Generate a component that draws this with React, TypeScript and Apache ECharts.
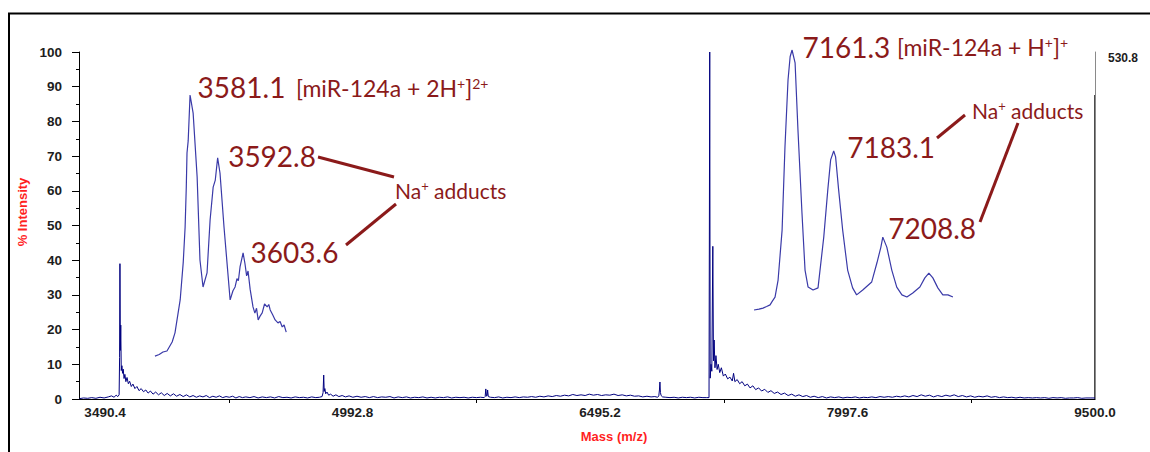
import { useEffect, useRef } from "react";
import * as echarts from "echarts";

// ---- axes -----------------------------------------------------------------
const massLabelValues = [3490.4, 4992.8, 6495.2, 7997.6, 9500.0];
const massTickValues = [4241.6, 5744.0, 7246.4, 8748.8];
const massRange = [3332.5, 9500.0];
const intensityRange = [0, 100];
const absoluteMaxCounts = 530.8;

// ---- full-range MALDI trace: [m/z, % intensity] ---------------------------
const lowMassTrace: [number, number][] = [
  [3335, 0.1], [3360, 0.3], [3385, 0.2], [3410, 0.4], [3435, 0.2], [3460, 0.5], [3485, 0.3],
  [3510, 0.6], [3530, 0.9], [3545, 0.5], [3558, 1.1], [3568, 0.7], [3576, 1.2], [3579, 12],
  [3581.1, 39], [3583.5, 14], [3586, 21.3], [3589, 8.2], [3593, 9.6], [3597, 7.4], [3601, 8.6],
  [3606, 5.9], [3611, 7.1], [3617, 5.0], [3624, 6.2], [3632, 4.4], [3640, 5.1], [3650, 3.6],
  [3660, 4.3], [3672, 3.0], [3684, 3.6], [3697, 2.4], [3710, 3.0], [3724, 2.1], [3738, 2.6],
  [3752, 1.7], [3766, 2.3], [3782, 1.4], [3798, 2.0], [3815, 1.2], [3832, 1.8], [3850, 1.0],
  [3868, 1.6], [3887, 0.9], [3906, 1.5], [3925, 0.8], [3945, 1.3], [3965, 0.7], [3985, 1.2],
  [4005, 0.6], [4025, 1.0], [4045, 0.5], [4065, 0.9], [4085, 0.6], [4105, 1.0], [4125, 0.4],
  [4145, 0.8], [4165, 0.5], [4185, 0.9], [4205, 0.4], [4225, 0.7], [4245, 0.5], [4265, 0.8],
  [4285, 0.3], [4305, 0.7], [4325, 0.4],
];

const midMassTrace: [number, number][] = [
  [4345, 0.6], [4370, 0.4], [4395, 0.7], [4420, 0.3], [4445, 0.6], [4470, 0.4], [4495, 0.6],
  [4520, 0.3], [4545, 0.7], [4570, 0.4], [4595, 0.5], [4620, 0.3], [4645, 0.6], [4670, 0.4],
  [4695, 0.5], [4720, 0.3], [4745, 0.6], [4770, 0.4], [4792, 0.5], [4808, 0.7], [4814, 1.8],
  [4818, 6.9], [4821, 2.2], [4825, 3.0], [4830, 1.5], [4838, 2.0], [4848, 1.1], [4860, 1.4],
  [4875, 0.8], [4892, 1.2], [4910, 0.7], [4930, 1.0], [4950, 0.6], [4972, 0.9], [4995, 0.5],
  [5020, 0.8], [5045, 0.5], [5070, 0.7], [5095, 0.4], [5120, 0.7], [5145, 0.4], [5170, 0.6],
  [5195, 0.5], [5220, 0.7], [5245, 0.3], [5270, 0.6], [5295, 0.4], [5320, 0.6], [5345, 0.3],
  [5370, 0.5], [5395, 0.4], [5420, 0.6], [5445, 0.3], [5470, 0.5], [5495, 0.3], [5520, 0.5],
  [5545, 0.4], [5570, 0.6], [5595, 0.3], [5620, 0.5], [5645, 0.4], [5670, 0.5], [5695, 0.3],
  [5720, 0.5], [5745, 0.4], [5770, 0.5], [5792, 0.4], [5798, 0.7], [5802, 2.9], [5806, 0.8],
  [5810, 1.0], [5813, 2.6], [5817, 0.7], [5830, 0.5], [5855, 0.4], [5880, 0.6], [5905, 0.3],
  [5930, 0.5], [5955, 0.4], [5980, 0.6], [6005, 0.4], [6030, 0.6], [6055, 0.5], [6080, 0.7],
  [6105, 0.5], [6130, 0.8], [6155, 0.6], [6180, 0.9], [6205, 0.7], [6230, 1.0], [6255, 0.8],
  [6280, 1.1], [6305, 0.9], [6330, 1.3], [6355, 1.0], [6380, 1.2], [6405, 1.0], [6430, 1.4],
  [6455, 1.1], [6480, 1.3], [6505, 1.0], [6530, 1.2], [6555, 1.1], [6580, 1.4], [6605, 1.0],
  [6630, 1.2], [6655, 0.9], [6680, 1.1], [6705, 0.8], [6730, 0.9], [6755, 0.6], [6780, 0.8],
  [6805, 0.6], [6828, 0.7], [6845, 0.5], [6852, 0.9], [6856, 2.6], [6859, 4.9], [6862, 1.9],
  [6866, 1.0], [6875, 0.6], [6895, 0.5],
];

const highMassTrace: [number, number][] = [
  [6920, 0.4], [6945, 0.5], [6970, 0.3], [6995, 0.5], [7020, 0.4], [7045, 0.5], [7070, 0.3],
  [7095, 0.5], [7120, 0.4], [7140, 0.4], [7157, 0.4], [7161.3, 100], [7164, 6], [7169, 10],
  [7174, 8], [7180, 44], [7184, 11], [7188, 17], [7193, 9], [7199, 12.5], [7206, 8.5],
  [7213, 10.0], [7222, 7.6], [7232, 9.0], [7244, 6.6], [7256, 7.2], [7270, 5.8], [7284, 6.3],
  [7298, 5.2], [7306, 7.4], [7314, 5.0], [7328, 5.6], [7343, 4.4], [7358, 5.0], [7374, 3.8],
  [7390, 4.3], [7406, 3.2], [7423, 3.8], [7440, 2.7], [7458, 3.2], [7476, 2.3], [7495, 2.8],
  [7514, 1.9], [7533, 2.4], [7553, 1.6], [7573, 2.0], [7594, 1.3], [7615, 1.7], [7637, 1.0],
  [7659, 1.4], [7681, 0.8], [7703, 1.2], [7726, 0.7], [7749, 1.0], [7772, 0.5], [7795, 0.8],
  [7820, 0.4], [7845, 0.7], [7870, 0.3], [7895, 0.6], [7920, 0.4], [7945, 0.6], [7970, 0.3],
  [7995, 0.5], [8020, 0.4], [8045, 0.6], [8070, 0.3], [8095, 0.5], [8120, 0.4], [8145, 0.6],
  [8170, 0.4], [8195, 0.7], [8220, 0.5], [8245, 0.7], [8270, 0.5], [8295, 0.8], [8320, 0.6],
  [8345, 0.9], [8370, 0.6], [8395, 1.0], [8420, 0.7], [8445, 1.2], [8470, 0.8], [8495, 1.1],
  [8520, 0.6], [8545, 1.0], [8570, 0.7], [8595, 1.1], [8620, 0.8], [8645, 1.2], [8670, 0.7],
  [8695, 1.0], [8720, 0.6], [8745, 0.9], [8770, 0.5], [8795, 0.8], [8820, 0.6], [8845, 0.9],
  [8870, 0.5], [8895, 0.7], [8920, 0.4], [8945, 0.6], [8970, 0.4], [8995, 0.5], [9020, 0.3],
  [9045, 0.5], [9070, 0.3], [9095, 0.4], [9120, 0.3], [9145, 0.4], [9170, 0.3], [9195, 0.4],
  [9220, 0.2], [9245, 0.4], [9270, 0.3], [9295, 0.4], [9320, 0.2], [9345, 0.3], [9370, 0.3],
  [9395, 0.4], [9420, 0.2], [9445, 0.3], [9470, 0.3], [9500, 0.3],
];

// ---- zoomed views of the two charge states: [m/z, relative intensity] ------
const doublyChargedWindow = [3564.1, 3623.5];
const doublyChargedTrace: [number, number][] = [
  [3566.2, 3.3], [3568.0, 3.9], [3569.6, 4.8], [3571.3, 5.2], [3573.5, 8.5], [3574.7, 11.9],
  [3576.9, 24.1], [3578.2, 38], [3579.0, 51.1], [3579.5, 66], [3579.8, 78.5], [3580.3, 83],
  [3581.1, 100], [3582.4, 93.3], [3584.1, 69.6], [3585.3, 38.9], [3586.6, 28.9], [3588.3, 34.1],
  [3589.6, 53.7], [3590.9, 65.9], [3591.8, 68.5], [3592.8, 76.7], [3593.8, 71.1], [3595.5, 51.1],
  [3598.1, 24.1], [3599.3, 27.5], [3600.2, 28.9], [3601.0, 32.0], [3601.6, 31.2], [3602.3, 36.3],
  [3603.6, 41.5], [3604.4, 37.5], [3605.1, 33.0], [3605.7, 34.8], [3606.6, 28], [3607.8, 21.5],
  [3608.6, 19.2], [3609.3, 21.0], [3610.0, 16.7], [3610.8, 18.1], [3611.7, 19.3], [3612.7, 22.6],
  [3613.8, 21.5], [3614.5, 22.4], [3615.1, 20.4], [3616.2, 18.5], [3617.2, 16.7], [3618.4, 15.6],
  [3619.3, 16.1], [3620.2, 14.1], [3621.0, 14.8], [3621.9, 12.2],
];
const doublyChargedPeaks: [number, number][] = [[3581.1, 100], [3592.8, 76.7], [3603.6, 41.5]];

const singlyChargedWindow = [7139.3, 7249.2];
const singlyChargedTrace: [number, number][] = [
  [7141.4, 3.7], [7144.0, 4.0], [7146.1, 4.4], [7148.0, 5.0], [7149.8, 5.6], [7151.0, 7.0],
  [7152.4, 8.5], [7154.0, 14.8], [7156.1, 33.3], [7157.6, 64.1], [7159.2, 88.9], [7160.3, 97.5],
  [7161.3, 100], [7162.9, 95.2], [7164.4, 70.4], [7166.5, 39.6], [7168.1, 18.5], [7169.7, 12.2],
  [7172.3, 11.1], [7174.9, 11.9], [7177.9, 30.7], [7180.0, 48.1], [7181.5, 59.3], [7183.1, 62.6],
  [7184.1, 60.4], [7185.7, 48.1], [7187.8, 33.3], [7190.4, 18.5], [7193.0, 11.9], [7195.1, 9.3],
  [7198.3, 11.1], [7203.0, 14.1], [7205.7, 21.1], [7207.8, 27.0], [7208.8, 30.7], [7210.9, 27.0],
  [7213.5, 18.5], [7216.1, 12.2], [7218.8, 9.3], [7221.4, 8.5], [7224.5, 10.0], [7228.2, 12.2],
  [7230.8, 15.6], [7232.9, 17.4], [7235.0, 15.6], [7237.6, 11.9], [7240.2, 9.3], [7242.9, 9.3],
  [7245.5, 8.5],
];
const singlyChargedPeaks: [number, number][] = [[7161.3, 100], [7183.1, 62.6], [7208.8, 30.7]];

// ---- styling ---------------------------------------------------------------
const ANNO = "#8b1a1a";
const AXIS_FONT = "'Liberation Sans', Arial, sans-serif";
const ANNO_FONT = "Lato, 'Open Sans', sans-serif";
const axisText = { fontFamily: AXIS_FONT, fontWeight: "bold" as const, fontSize: 13.5, color: "#1d1d1d" };

const doublyLabelOffsets = [[7, -8], [10, -2], [7, -1]];
const singlyLabelOffsets = [[10, -3], [13, -4], [5, -9]];

function peakMarks(peaks: [number, number][], offsets: number[][]) {
  return {
    symbol: "circle",
    symbolSize: 1,
    silent: true,
    itemStyle: { color: "rgba(0,0,0,0)" },
    label: {
      show: true,
      position: "right",
      distance: 0,
      color: ANNO,
      fontFamily: ANNO_FONT,
      fontSize: 28,
    },
    data: peaks.map((p, i) => ({
      coord: p,
      value: p[0],
      label: { formatter: p[0].toFixed(1), offset: offsets[i] },
    })),
  };
}

function supRich(size: number) {
  return {
    s: { fontSize: size, fontFamily: ANNO_FONT, fill: ANNO, color: ANNO, verticalAlign: "top" },
  };
}

function annoText(text: string, x: number, y: number, size: number, supSize: number) {
  return {
    type: "text",
    silent: true,
    z: 20,
    style: {
      text,
      x,
      y,
      fill: ANNO,
      fontSize: size,
      fontFamily: ANNO_FONT,
      align: "left",
      textAlign: "left",
      verticalAlign: "middle",
      textVerticalAlign: "middle",
      rich: supRich(supSize),
    },
  };
}

function leader(x1: number, y1: number, x2: number, y2: number) {
  return {
    type: "line",
    silent: true,
    z: 20,
    shape: { x1, y1, x2, y2 },
    style: { stroke: ANNO, lineWidth: 3 },
  };
}

function buildOption() {
  return {
    animation: false,
    backgroundColor: "#ffffff",
    grid: [
      { left: 79, right: 55, top: 52, bottom: 53 },
      { left: 150, top: 95, width: 140, height: 270 },
      { left: 750, top: 50, width: 210, height: 270 },
    ],
    xAxis: [
      {
        gridIndex: 0,
        type: "value",
        min: massRange[0],
        max: massRange[1],
        axisLine: { show: true, lineStyle: { color: "#000", width: 1 } },
        axisTick: { show: true, customValues: massTickValues, length: 4, lineStyle: { color: "#000" } },
        axisLabel: { customValues: massLabelValues, formatter: (v: number) => v.toFixed(1), margin: 6, ...axisText },
        splitLine: { show: false },
      },
      { gridIndex: 1, type: "value", min: doublyChargedWindow[0], max: doublyChargedWindow[1], show: false },
      { gridIndex: 2, type: "value", min: singlyChargedWindow[0], max: singlyChargedWindow[1], show: false },
    ],
    yAxis: [
      {
        gridIndex: 0,
        type: "value",
        min: intensityRange[0],
        max: intensityRange[1],
        interval: 10,
        axisLine: { show: true, lineStyle: { color: "#000", width: 1 } },
        axisTick: { show: true, length: 7, lineStyle: { color: "#000" } },
        minorTick: { show: true, splitNumber: 2, length: 3, lineStyle: { color: "#000" } },
        axisLabel: { margin: 17, ...axisText },
        splitLine: { show: false },
      },
      {
        gridIndex: 0,
        type: "value",
        position: "right",
        min: 0,
        max: absoluteMaxCounts,
        axisLine: { show: true, lineStyle: { color: "#8a8a8a", width: 1 } },
        axisTick: { show: false },
        axisLabel: {
          customValues: [absoluteMaxCounts],
          formatter: (v: number) => v.toFixed(1),
          margin: 13,
          verticalAlign: "top",
          ...axisText,
          fontSize: 12,
        },
        splitLine: { show: false },
      },
      { gridIndex: 1, type: "value", min: 0, max: 100, show: false },
      { gridIndex: 2, type: "value", min: 0, max: 100, show: false },
    ],
    series: [
      {
        type: "line",
        xAxisIndex: 0,
        yAxisIndex: 0,
        data: [...lowMassTrace, ...midMassTrace, ...highMassTrace],
        symbol: "none",
        lineStyle: { color: "#00007f", width: 1 },
        z: 2,
      },
      {
        type: "line",
        xAxisIndex: 1,
        yAxisIndex: 2,
        data: doublyChargedTrace,
        symbol: "none",
        lineStyle: { color: "#3a3aa8", width: 1.2 },
        z: 3,
        markPoint: peakMarks(doublyChargedPeaks, doublyLabelOffsets),
      },
      {
        type: "line",
        xAxisIndex: 2,
        yAxisIndex: 3,
        data: singlyChargedTrace,
        symbol: "none",
        lineStyle: { color: "#3a3aa8", width: 1.2 },
        z: 3,
        markPoint: peakMarks(singlyChargedPeaks, singlyLabelOffsets),
      },
    ],
    graphic: [
      {
        type: "rect",
        silent: true,
        shape: { x: 9, y: 13.5, width: 1200, height: 500 },
        style: { fill: "none", stroke: "#000", lineWidth: 2 },
      },
      {
        type: "line",
        silent: true,
        shape: { x1: 1095, y1: 95, x2: 1095, y2: 399 },
        style: { stroke: "#111", lineWidth: 1.5 },
      },
      {
        type: "text",
        silent: true,
        x: 22,
        y: 212,
        rotation: Math.PI / 2,
        style: {
          text: "% Intensity",
          fill: "#ff1f1f",
          fontSize: 13,
          fontWeight: "bold",
          fontFamily: AXIS_FONT,
          align: "center",
          textAlign: "center",
          verticalAlign: "middle",
          textVerticalAlign: "middle",
        },
      },
      {
        type: "text",
        silent: true,
        style: {
          text: "Mass (m/z)",
          x: 614,
          y: 436,
          fill: "#ff1f1f",
          fontSize: 13,
          fontWeight: "bold",
          fontFamily: AXIS_FONT,
          align: "center",
          textAlign: "center",
          verticalAlign: "middle",
          textVerticalAlign: "middle",
        },
      },
      annoText("[miR-124a + 2H{s|+}]{s|2+}", 296, 88, 23, 14),
      annoText("[miR-124a + H{s|+}]{s|+}", 897, 47, 23, 14),
      annoText("Na{s|+} adducts", 395, 190, 21, 13),
      annoText("Na{s|+} adducts", 972, 110, 21, 13),
      leader(318, 157, 394, 177),
      leader(396, 204, 346, 245),
      leader(937, 138, 965, 115),
      leader(1018, 123, 980, 222),
    ],
  };
}

export default function App() {
  const ref = useRef<HTMLDivElement>(null);
  useEffect(() => {
    document.body.style.margin = "0";
    if (!ref.current) return;
    const chart = echarts.init(ref.current, null, { renderer: "svg" });
    chart.setOption(buildOption() as any);
    return () => chart.dispose();
  }, []);
  return <div ref={ref} style={{ width: 1150, height: 452 }} />;
}
